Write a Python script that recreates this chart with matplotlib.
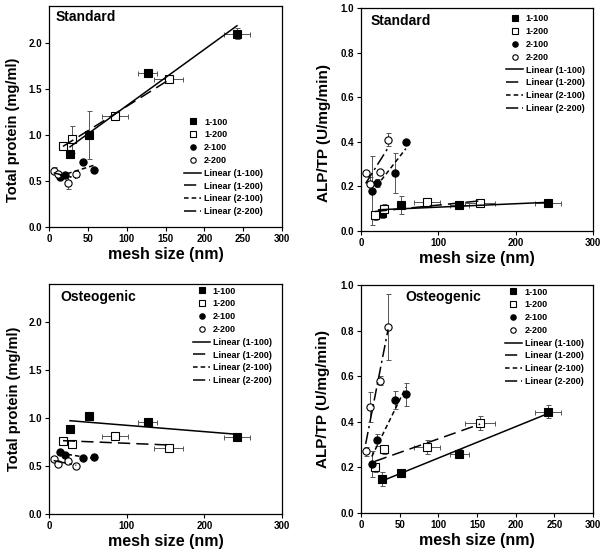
import numpy as np
import matplotlib.pyplot as plt

plt.rcParams['font.family'] = ['Liberation Sans', 'DejaVu Sans']
plt.rcParams['font.weight'] = 'bold'
plt.rcParams['axes.labelweight'] = 'bold'

series = ['1-100', '1-200', '2-100', '2-200']

# mesh size (nm) of each gel, with its spread
mesh_1_100 = [27, 52, 127, 242]
mesh_1_200 = [18, 30, 85, 154]
mesh_2_100 = [14, 21, 44, 58]
mesh_2_200 = [6, 12, 24, 35]
mesh_err_1_100 = [2, 3, 12, 17]
mesh_err_1_200 = [2, 3, 17, 19]
mesh_err_2_100 = [1, 2, 2, 2]
mesh_err_2_200 = [1, 1, 2, 2]

# total protein (mg/ml), standard medium
tp_std_1_100 = [0.79, 1.00, 1.67, 2.10]
tp_std_1_200 = [0.88, 0.95, 1.20, 1.61]
tp_std_2_100 = [0.54, 0.56, 0.71, 0.62]
tp_std_2_200 = [0.61, 0.58, 0.48, 0.57]
tp_std_err_1_100 = [0.03, 0.26, 0.03, 0.06]
tp_std_err_1_200 = [0.02, 0.15, 0.02, 0.03]
tp_std_err_2_100 = [0.02, 0.02, 0.02, 0.02]
tp_std_err_2_200 = [0.04, 0.02, 0.07, 0.03]

# ALP/TP (U/mg/min), standard medium
alp_std_1_100 = [0.08, 0.115, 0.115, 0.125]
alp_std_1_200 = [0.07, 0.10, 0.13, 0.125]
alp_std_2_100 = [0.18, 0.215, 0.26, 0.40]
alp_std_2_200 = [0.26, 0.21, 0.265, 0.41]
alp_std_err_1_100 = [0.02, 0.04, 0.01, 0.01]
alp_std_err_1_200 = [0.02, 0.02, 0.01, 0.01]
alp_std_err_2_100 = [0.155, 0.02, 0.09, 0.01]
alp_std_err_2_200 = [0.01, 0.03, 0.01, 0.03]

# total protein (mg/ml), osteogenic medium
tp_ost_1_100 = [0.89, 1.02, 0.96, 0.80]
tp_ost_1_200 = [0.76, 0.73, 0.81, 0.69]
tp_ost_2_100 = [0.645, 0.62, 0.58, 0.59]
tp_ost_2_200 = [0.57, 0.52, 0.55, 0.50]
tp_ost_err_1_100 = [0.02, 0.02, 0.02, 0.02]
tp_ost_err_1_200 = [0.02, 0.02, 0.02, 0.02]
tp_ost_err_2_100 = [0.01, 0.01, 0.01, 0.01]
tp_ost_err_2_200 = [0.01, 0.01, 0.01, 0.01]

# ALP/TP (U/mg/min), osteogenic medium
alp_ost_1_100 = [0.15, 0.175, 0.26, 0.445]
alp_ost_1_200 = [0.20, 0.28, 0.29, 0.395]
alp_ost_2_100 = [0.215, 0.32, 0.495, 0.52]
alp_ost_2_200 = [0.27, 0.465, 0.58, 0.815]
alp_ost_err_1_100 = [0.03, 0.01, 0.02, 0.03]
alp_ost_err_1_200 = [0.02, 0.02, 0.03, 0.03]
alp_ost_err_2_100 = [0.055, 0.025, 0.04, 0.05]
alp_ost_err_2_200 = [0.02, 0.065, 0.02, 0.145]

mesh = [mesh_1_100, mesh_1_200, mesh_2_100, mesh_2_200]
mesh_err = [mesh_err_1_100, mesh_err_1_200, mesh_err_2_100, mesh_err_2_200]

markers = ['s', 's', 'o', 'o']
faces = ['black', 'white', 'black', 'white']
lstyles = ['-', (0, (8, 4)), (0, (3, 2)), (0, (8, 2.5, 1.5, 2.5))]


def draw(ax, ys, yerrs, ylim, yticks, xticks, ylabel, ysize, ylab_pos,
         title, title_pos, leg_pos):
    for i in range(4):
        ax.errorbar(mesh[i], ys[i], xerr=mesh_err[i], yerr=yerrs[i], fmt='none',
                    ecolor='#555555', elinewidth=0.7, capsize=1.8, capthick=0.7, zorder=2)
    for i in range(4):
        ax.plot(mesh[i], ys[i], ls='none', marker=markers[i], ms=5.2, mfc=faces[i],
                mec='black', mew=0.8, label=series[i], zorder=3)
    for i in range(4):
        k, b = np.polyfit(mesh[i], ys[i], 1)
        xs = np.array([min(mesh[i]), max(mesh[i])])
        ax.plot(xs, k * xs + b, color='black', lw=1.1, ls=lstyles[i],
                label='Linear (%s)' % series[i], zorder=4)
    ax.set_xlim(0, 300)
    ax.set_ylim(*ylim)
    ax.set_xticks(xticks)
    ax.set_yticks(yticks)
    ax.yaxis.set_major_formatter(plt.FormatStrFormatter('%.1f'))
    ax.tick_params(direction='out', length=3, width=0.8, labelsize=7, pad=2)
    for s in ax.spines.values():
        s.set_linewidth(0.9)
    ax.set_xlabel('mesh size (nm)', fontsize=11.5, labelpad=2)
    ax.set_ylabel(ylabel, fontsize=ysize)
    ax.yaxis.set_label_coords(*ylab_pos)
    ax.text(title_pos[0], title_pos[1], title, transform=ax.transAxes,
            fontsize=10, fontweight='bold', va='center', ha='left')
    ax.legend(loc='upper left', bbox_to_anchor=leg_pos, frameon=False, fontsize=6.5,
              handlelength=1.9, handletextpad=0.3, labelspacing=0.42, borderpad=0,
              borderaxespad=0, markerscale=0.75)


fig = plt.figure(figsize=(6.12, 5.57), dpi=100)
ax1 = fig.add_axes([0.0801, 0.5925, 0.3807, 0.3968])
ax2 = fig.add_axes([0.5899, 0.5853, 0.3791, 0.4004])
ax3 = fig.add_axes([0.0801, 0.0772, 0.3807, 0.4129])
ax4 = fig.add_axes([0.5899, 0.0790, 0.3791, 0.4093])

tp_ticks = [0.0, 0.5, 1.0, 1.5, 2.0]
alp_ticks = [0.0, 0.2, 0.4, 0.6, 0.8, 1.0]

draw(ax1, [tp_std_1_100, tp_std_1_200, tp_std_2_100, tp_std_2_200],
     [tp_std_err_1_100, tp_std_err_1_200, tp_std_err_2_100, tp_std_err_2_200],
     (0, 2.4), tp_ticks, range(0, 301, 50), 'Total protein (mg/ml)', 10.5, (-0.125, 0.44),
     'Standard', (0.026, 0.95), (0.58, 0.495))
draw(ax2, [alp_std_1_100, alp_std_1_200, alp_std_2_100, alp_std_2_200],
     [alp_std_err_1_100, alp_std_err_1_200, alp_std_err_2_100, alp_std_err_2_200],
     (0, 1.0), alp_ticks, range(0, 301, 100), 'ALP/TP (U/mg/min)', 11, (-0.13, 0.44),
     'Standard', (0.043, 0.94), (0.625, 0.971))
draw(ax3, [tp_ost_1_100, tp_ost_1_200, tp_ost_2_100, tp_ost_2_200],
     [tp_ost_err_1_100, tp_ost_err_1_200, tp_ost_err_2_100, tp_ost_err_2_200],
     (0, 2.4), tp_ticks, range(0, 301, 100), 'Total protein (mg/ml)', 10.5, (-0.12, 0.5),
     'Osteogenic', (0.047, 0.945), (0.618, 0.989))
draw(ax4, [alp_ost_1_100, alp_ost_1_200, alp_ost_2_100, alp_ost_2_200],
     [alp_ost_err_1_100, alp_ost_err_1_200, alp_ost_err_2_100, alp_ost_err_2_200],
     (0, 1.0), alp_ticks, range(0, 301, 50), 'ALP/TP (U/mg/min)', 11, (-0.135, 0.5),
     'Osteogenic', (0.19, 0.947), (0.62, 0.989))

fig.savefig('out.png', dpi=100)
